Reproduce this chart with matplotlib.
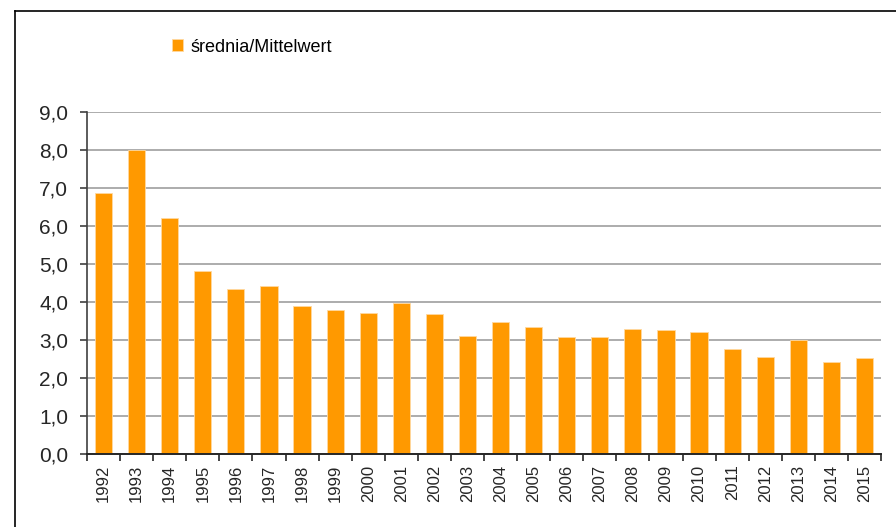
import matplotlib
matplotlib.use("Agg")
import matplotlib.pyplot as plt
from matplotlib.lines import Line2D
from matplotlib.ticker import FixedLocator, FuncFormatter

plt.rcParams["font.family"] = ["Liberation Sans", "DejaVu Sans"]

years = [str(y) for y in range(1992, 2016)]
srednia = [6.86, 8.0, 6.2, 4.8, 4.33, 4.41, 3.88, 3.77, 3.69, 3.96, 3.67, 3.09,
           3.47, 3.33, 3.06, 3.06, 3.27, 3.24, 3.19, 2.74, 2.54, 2.98, 2.40, 2.51]
y_ticks = [0, 1, 2, 3, 4, 5, 6, 7, 8, 9]
legend_label = "średnia/Mittelwert"

W, H = 896, 527
fig = plt.figure(figsize=(W / 100, H / 100), dpi=100)
ax = fig.add_axes([87 / W, 1 - 453.5 / H, (881 - 87) / W, (453.5 - 111.5) / H])

x = list(range(len(years)))
ax.bar(x, srednia, width=0.52, color="#FF9900", edgecolor="#FFD9A0",
       linewidth=0.6, label=legend_label, zorder=3)

ax.set_xlim(-0.5, len(years) - 0.5)
ax.set_ylim(0, 9)
ax.set_yticks(y_ticks)
ax.yaxis.set_major_formatter(FuncFormatter(lambda v, p: f"{v:.1f}".replace(".", ",")))
ax.grid(axis="y", color="#A6A6A6", linewidth=1.3, zorder=0)

ax.set_xticks(x)
ax.set_xticklabels(years, rotation=90, fontsize=12, color="#262626")
ax.xaxis.set_minor_locator(FixedLocator([i - 0.5 for i in range(len(years) + 1)]))
ax.tick_params(axis="x", which="major", length=0, pad=8)
ax.tick_params(axis="x", which="minor", length=5, width=1.2, color="#262626", direction="out")
ax.tick_params(axis="y", length=5, width=1.2, color="#404040", labelsize=15,
               labelcolor="#262626", pad=8.5)

for side in ["top", "right"]:
    ax.spines[side].set_visible(False)
ax.spines["left"].set_color("#404040")
ax.spines["left"].set_linewidth(1.2)
ax.spines["bottom"].set_color("#262626")
ax.spines["bottom"].set_linewidth(1.4)
ax.spines["bottom"].set_zorder(4)

ax.legend(loc="center left", bbox_to_anchor=(156 / W, 1 - 47 / H),
          bbox_transform=fig.transFigure, frameon=False, fontsize=13,
          handlelength=0.6, handleheight=0.6, handletextpad=0.4)

# frame of the chart area
fig.add_artist(Line2D([14.5 / W, 14.5 / W], [0, 1 - 10.5 / H], transform=fig.transFigure,
                      color="black", linewidth=1.2))
fig.add_artist(Line2D([14.5 / W, 1], [1 - 10.5 / H, 1 - 10.5 / H], transform=fig.transFigure,
                      color="black", linewidth=1.2))

fig.savefig("out.png", dpi=100)
